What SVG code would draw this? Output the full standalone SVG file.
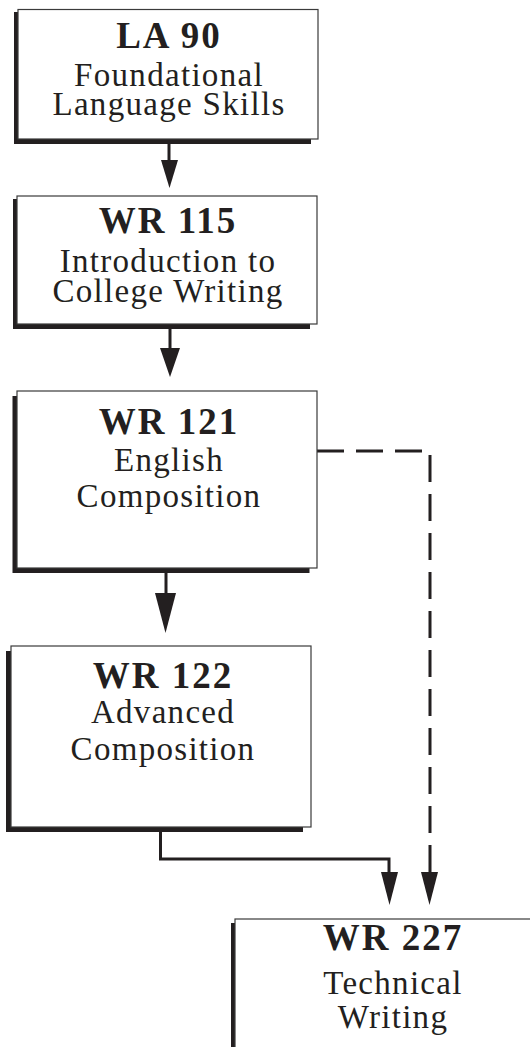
<svg xmlns="http://www.w3.org/2000/svg" width="530" height="1047" viewBox="0 0 530 1047">
<style>
.shadow{fill:#231f20;}
.box{fill:#fff;stroke:#3a3a3a;stroke-width:1.2;}
.t{font-family:"Liberation Serif","Times New Roman",serif;fill:#231f20;text-anchor:middle;}
.b{font-weight:bold;font-size:37px;letter-spacing:2px;}
.r{font-size:33px;letter-spacing:1.3px;}
.line{fill:none;stroke:#231f20;stroke-width:3;}
.dash{fill:none;stroke:#231f20;stroke-width:3;stroke-dasharray:27 12;}
.head{fill:#231f20;}
</style>
<rect width="530" height="1047" fill="#fff"/>
<g id="connectors">
<line class="line" x1="169" y1="144" x2="169" y2="162"/>
<polygon class="head" points="161,160 178,160 169.5,188"/>
<line class="line" x1="170" y1="329" x2="170" y2="350"/>
<polygon class="head" points="160,348 180,348 170,377"/>
<line class="line" x1="166" y1="573" x2="166" y2="595"/>
<polygon class="head" points="155,593 176,593 165.5,633"/>
<polyline class="line" points="160.5,832 160.5,859 389,859 389,874"/>
<polygon class="head" points="381,872 398,872 389.5,905"/>
<polyline class="dash" points="317,451 430,451 430,874"/>
<polygon class="head" points="421,872 438,872 429.5,905"/>
</g>
<g id="la90">
<rect class="shadow" x="14" y="12" width="297" height="132"/>
<rect class="box" x="18" y="9.5" width="300" height="129.5"/>
<text class="t b" x="169" y="48">LA 90</text>
<text class="t r" x="169" y="86">Foundational</text>
<text class="t r" x="169" y="115">Language Skills</text>
</g>
<g id="wr115">
<rect class="shadow" x="13" y="199" width="297" height="130"/>
<rect class="box" x="17" y="196" width="300" height="128"/>
<text class="t b" x="168" y="233">WR 115</text>
<text class="t r" x="168" y="272">Introduction to</text>
<text class="t r" x="168" y="302">College Writing</text>
</g>
<g id="wr121">
<rect class="shadow" x="12.5" y="396" width="297" height="177"/>
<rect class="box" x="17" y="391" width="300" height="177"/>
<text class="t b" x="169" y="434">WR 121</text>
<text class="t r" x="169" y="471">English</text>
<text class="t r" x="169" y="507">Composition</text>
</g>
<g id="wr122">
<rect class="shadow" x="6" y="651" width="297" height="181"/>
<rect class="box" x="11" y="646" width="300" height="181"/>
<text class="t b" x="163" y="688">WR 122</text>
<text class="t r" x="163" y="723">Advanced</text>
<text class="t r" x="163" y="760">Composition</text>
</g>
<g id="wr227">
<rect class="shadow" x="231" y="923" width="320" height="150"/>
<rect class="box" x="235" y="919" width="320" height="150"/>
<text class="t b" x="393" y="950">WR 227</text>
<text class="t r" x="393" y="994">Technical</text>
<text class="t r" x="393" y="1028">Writing</text>
</g>
</svg>
